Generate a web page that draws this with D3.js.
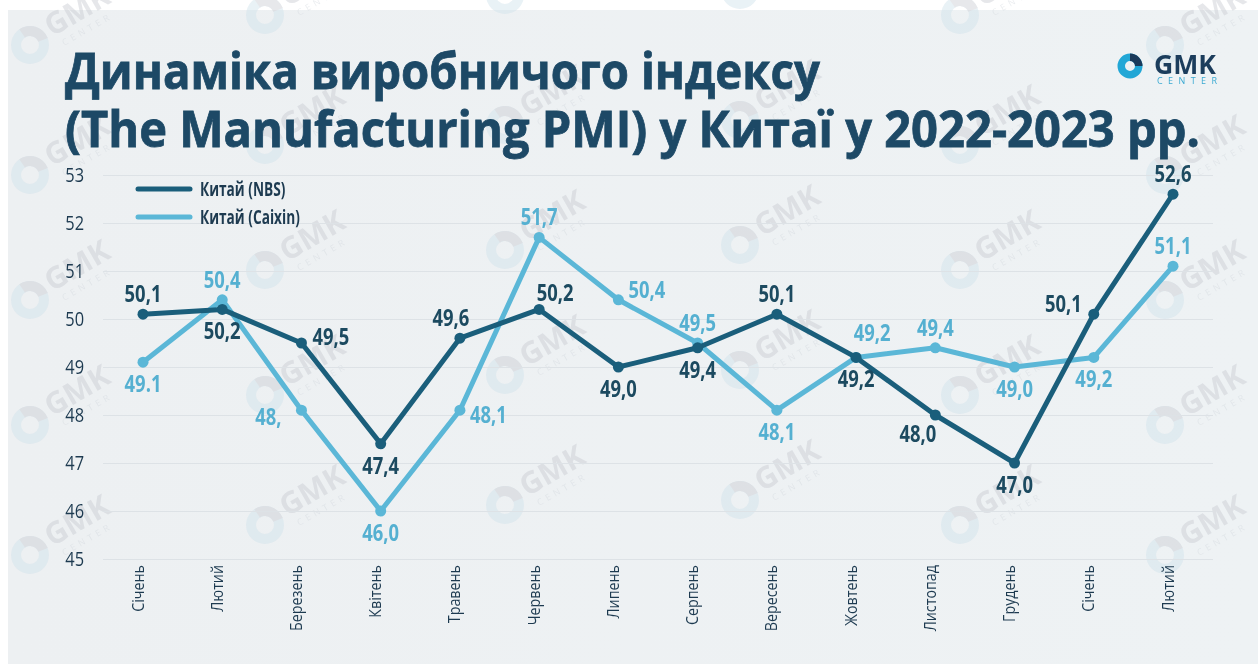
<!DOCTYPE html>
<html>
<head>
<meta charset="utf-8">
<script src="https://cdn.jsdelivr.net/npm/d3@7"></script>
<style>
  html, body { margin: 0; padding: 0; background: #ffffff; }
  svg { display: block; }
  .cond { font-family: "Open Sans", sans-serif; }
</style>
</head>
<body>
<div id="chart"></div>
<script>
// months (2022 - Feb 2023)
var months = ["Січень", "Лютий", "Березень", "Квітень", "Травень", "Червень", "Липень",
  "Серпень", "Вересень", "Жовтень", "Листопад", "Грудень", "Січень", "Лютий"];

var nbsValues = [50.1, 50.2, 49.5, 47.4, 49.6, 50.2, 49.0, 49.4, 50.1, 49.2, 48.0, 47.0, 50.1, 52.6];
var caixinValues = [49.1, 50.4, 48.1, 46.0, 48.1, 51.7, 50.4, 49.5, 48.1, 49.2, 49.4, 49.0, 49.2, 51.1];

// labels as printed on the chart
var nbsLabels = ["50,1", "50,2", "49,5", "47,4", "49,6", "50,2", "49,0", "49,4", "50,1", "49,2", "48,0", "47,0", "50,1", "52,6"];
var caixinLabels = ["49.1", "50,4", "48,", "46,0", "48,1", "51,7", "50,4", "49,5", "48,1", "49,2", "49,4", "49,0", "49,2", "51,1"];

// where each label sits relative to its point
var nbsPlace = ["t", "b", "r", "b", "tl", "tr", "b", "b", "t", "b", "bl", "b", "lu", "t"];
var caixinPlace = ["b", "t", "l", "b", "rd", "t", "ru", "t", "b", "tr2", "t", "b", "b", "t"];

var yTicks = [45, 46, 47, 48, 49, 50, 51, 52, 53];

var seriesNames = ["Китай (NBS)", "Китай (Caixin)"];

var colNbs = "#1a5e7b";
var colCaixin = "#5bb7d7";
var colNbsText = "#1c4a60";
var colCaixinText = "#55b0d1";
var colDark = "#1d3a50";

var placeMap = {
  t: [0, -12, "middle"],
  b: [0, 30, "middle"],
  r: [11, 2, "start"],
  rd: [10, 13, "start"],
  ru: [10, -2, "start"],
  tl: [-9, -12, "middle"],
  tr: [16, -8, "middle"],
  tr2: [16, -16, "middle"],
  bl: [1, 27, "end"],
  l: [-20, 15, "end"],
  lu: [-12, -2, "end"]
};

// squeeze text horizontally to get a condensed look
function condense(sel, f) {
  sel.each(function() {
    var w = this.getComputedTextLength();
    d3.select(this).attr("textLength", w * f).attr("lengthAdjust", "spacingAndGlyphs");
  });
}

function makeChart() {
  var svgWidth = 1258;
  var svgHeight = 664;

  var svg = d3.select("#chart")
    .append("svg")
    .attr("width", svgWidth)
    .attr("height", svgHeight);

  var defs = svg.append("defs");
  var grad = defs.append("linearGradient").attr("id", "bg").attr("x1", "0").attr("x2", "1").attr("y1", "0").attr("y2", "0");
  grad.append("stop").attr("offset", "0").attr("stop-color", "#edf0f2");
  grad.append("stop").attr("offset", "1").attr("stop-color", "#eef2f4");

  svg.append("rect")
    .attr("x", 8).attr("y", 10)
    .attr("width", svgWidth - 8).attr("height", svgHeight - 10)
    .attr("fill", "url(#bg)");

  // faint watermarks
  var wmCols = [30, 265, 505, 740, 960, 1165];
  var wmShift = [0, -30, -50, -55, -30, 0];
  var wmRows = [45, 175, 300, 425, 555];
  var wm = svg.append("g").attr("opacity", 0.45);
  wmCols.forEach(function(cx, ci) {
    wmRows.forEach(function(cy) {
      var g = wm.append("g").attr("transform", `translate(${cx}, ${cy + wmShift[ci]})`);
      var arc = d3.arc().innerRadius(9).outerRadius(19);
      g.append("path").attr("d", arc({ startAngle: 0, endAngle: 2 * Math.PI })).attr("fill", "#cfe2eb");
      g.append("path").attr("d", arc({ startAngle: -0.6, endAngle: 1.2 })).attr("fill", "#c9ccd3");
      var t = g.append("g").attr("transform", "translate(22, -8) rotate(-30)");
      t.append("text").attr("x", 0).attr("y", 0)
        .attr("font-family", "Open Sans, sans-serif").attr("font-weight", 700)
        .attr("font-size", 30).attr("fill", "#c7cad1").text("GMK");
      t.append("text").attr("x", 6).attr("y", 14)
        .attr("font-family", "Open Sans, sans-serif")
        .attr("font-size", 9).attr("letter-spacing", 4).attr("fill", "#d3d8de").text("CENTER");
    });
  });

  // title
  var title = svg.append("g")
    .attr("font-family", "Open Sans, sans-serif")
    .attr("font-weight", 700)
    .attr("font-size", 51)
    .attr("fill", "#1d4966")
    .attr("stroke", "#1d4966")
    .attr("stroke-width", 0.8);
  var t1 = title.append("text").attr("x", 65).attr("y", 89).text("Динаміка виробничого індексу");
  var t2 = title.append("text").attr("x", 65).attr("y", 147).text("(The Manufacturing PMI) у Китаї у 2022-2023 pp.");
  t1.attr("textLength", 755).attr("lengthAdjust", "spacingAndGlyphs");
  t2.attr("textLength", 1135).attr("lengthAdjust", "spacingAndGlyphs");

  // logo
  var logo = svg.append("g").attr("transform", "translate(1130, 66)");
  var larc = d3.arc().innerRadius(5).outerRadius(12.5);
  logo.append("path").attr("d", larc({ startAngle: 0, endAngle: 2 * Math.PI })).attr("fill", "#22a7d6");
  logo.append("path").attr("d", larc({ startAngle: 0, endAngle: Math.PI / 2 })).attr("fill", "#1b3a5a");
  logo.append("text").attr("x", 24).attr("y", 8)
    .attr("font-family", "Open Sans, sans-serif").attr("font-weight", 700)
    .attr("font-size", 27).attr("fill", "#1c3d5c")
    .attr("textLength", 62).attr("lengthAdjust", "spacingAndGlyphs")
    .text("GMK");
  logo.append("text").attr("x", 27).attr("y", 18)
    .attr("font-family", "Open Sans, sans-serif")
    .attr("font-size", 9).attr("fill", "#3aa9d2")
    .attr("textLength", 60).attr("lengthAdjust", "spacing")
    .text("CENTER");

  // scales
  var xScale = d3.scalePoint()
    .domain(d3.range(months.length))
    .range([143, 1173]);

  var yScale = d3.scaleLinear()
    .domain([45, 53])
    .range([559, 175]);

  // grid
  var yAxis = d3.axisLeft(yScale)
    .tickValues(yTicks)
    .tickSize(-(1213 - 103))
    .tickPadding(19)
    .tickFormat(d3.format("d"));

  var yG = svg.append("g")
    .attr("transform", "translate(103, 0)")
    .call(yAxis);
  yG.select(".domain").remove();
  yG.selectAll(".tick line").attr("stroke", "#dde2e6").attr("stroke-width", 1.2);
  yG.selectAll(".tick text")
    .attr("class", "cond")
    .attr("font-size", 20)
    .attr("fill", colDark)
    .call(condense, 0.82);

  // x labels
  var xAxis = d3.axisBottom(xScale)
    .tickSize(0)
    .tickFormat(function(i) { return months[i]; });
  var xG = svg.append("g")
    .attr("transform", "translate(0, 565)")
    .call(xAxis);
  xG.select(".domain").remove();
  xG.selectAll(".tick text")
    .attr("class", "cond")
    .attr("font-size", 17)
    .attr("fill", colDark)
    .attr("transform", "rotate(-90)")
    .attr("text-anchor", "end")
    .attr("x", 0)
    .attr("y", 0)
    .attr("dy", "0")
    .call(condense, 0.84);

  // lines
  var line = d3.line()
    .x(function(d, i) { return xScale(i); })
    .y(function(d) { return yScale(d); });

  var series = [
    { values: caixinValues, labels: caixinLabels, place: caixinPlace, color: colCaixin, text: colCaixinText },
    { values: nbsValues, labels: nbsLabels, place: nbsPlace, color: colNbs, text: colNbsText }
  ];

  series.forEach(function(s) {
    svg.append("path")
      .datum(s.values)
      .attr("d", line)
      .attr("fill", "none")
      .attr("stroke", s.color)
      .attr("stroke-width", 5)
      .attr("stroke-linejoin", "round");

    svg.append("g").selectAll("circle")
      .data(s.values)
      .enter()
      .append("circle")
      .attr("cx", function(d, i) { return xScale(i); })
      .attr("cy", function(d) { return yScale(d); })
      .attr("r", 5.5)
      .attr("fill", s.color);
  });

  series.forEach(function(s) {
    svg.append("g").selectAll("text")
      .data(s.values)
      .enter()
      .append("text")
      .attr("class", "cond")
      .attr("font-size", 23)
      .attr("font-weight", 700)
      .attr("fill", s.text)
      .attr("x", function(d, i) { return xScale(i) + placeMap[s.place[i]][0]; })
      .attr("y", function(d, i) { return yScale(d) + placeMap[s.place[i]][1]; })
      .attr("text-anchor", function(d, i) { return placeMap[s.place[i]][2]; })
      .text(function(d, i) { return s.labels[i]; })
      .call(condense, 0.8);
  });

  // legend
  var legend = svg.append("g").attr("transform", "translate(138, 189)");
  var legColors = [colNbs, colCaixin];
  seriesNames.forEach(function(name, i) {
    var row = legend.append("g").attr("transform", `translate(0, ${i * 28})`);
    row.append("line")
      .attr("x1", 0).attr("x2", 52)
      .attr("stroke", legColors[i])
      .attr("stroke-width", 5)
      .attr("stroke-linecap", "round");
    row.append("text")
      .attr("class", "cond")
      .attr("x", 62).attr("y", 7)
      .attr("font-size", 19)
      .attr("font-weight", 700)
      .attr("fill", colDark)
      .text(name)
      .call(condense, 0.72);
  });
}

makeChart();
</script>
</body>
</html>
